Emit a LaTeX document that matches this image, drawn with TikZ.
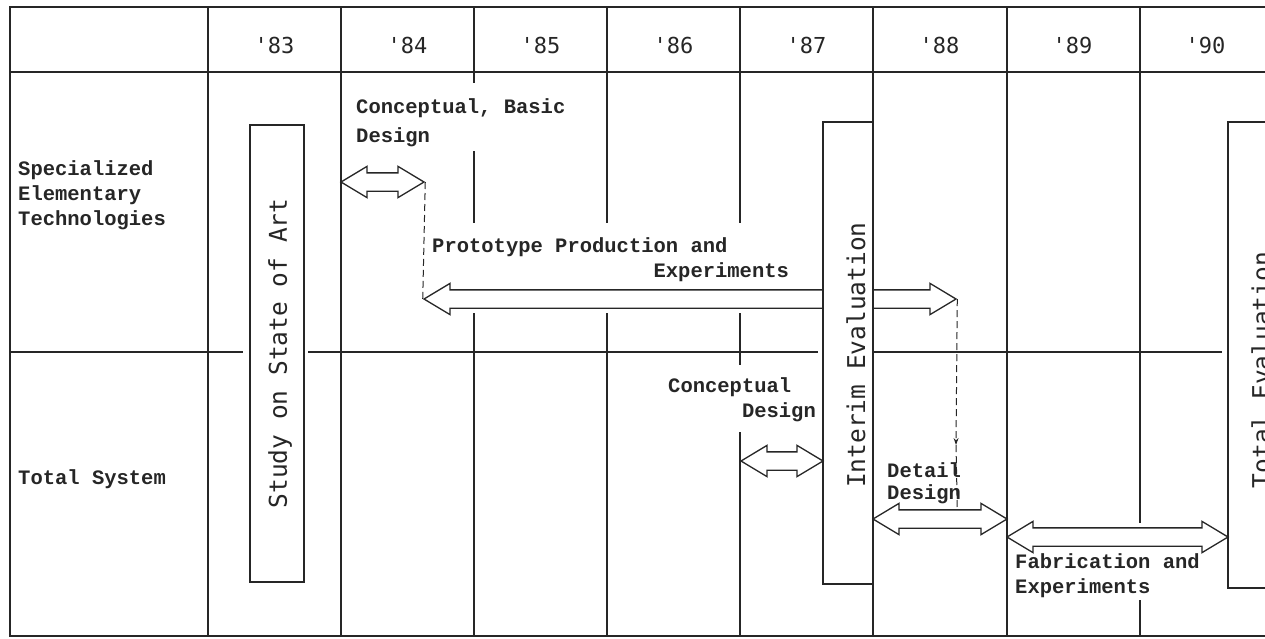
\documentclass[tikz,border=0pt]{standalone}
\usepackage{fontspec}
\setmainfont{Liberation Serif}
\newfontfamily\typew{Liberation Mono}
\newfontfamily\gothic{DejaVu Sans Mono}
\usetikzlibrary{shapes.arrows,arrows.meta,positioning}

\begin{document}
\begin{tikzpicture}[x=1pt, y=-1pt,
    grid/.style={line width=1.3pt, black!85},
    yr/.style={font=\gothic\fontsize{22}{26}\selectfont, text=black!85},
    lab/.style={font=\typew\bfseries\fontsize{20.5}{25}\selectfont, align=left,
                anchor=west, inner sep=2pt, text=black!85},
    box/.style={draw=black!85, line width=1.3pt, fill=white, inner sep=0pt},
    vlab/.style={font=\gothic\fontsize{24.5}{28}\selectfont, rotate=90, inner sep=0pt, text=black!85},
    dbl/.style={double arrow, draw=black!85, fill=white, line width=1.3pt,
                inner xsep=0pt, inner ysep=8.5pt, double arrow head extend=6.5pt,
                double arrow tip angle=62},
    lead/.style={black!85, line width=1pt, dash pattern=on 7pt off 4pt}]
  \useasboundingbox (0,0) rectangle (1265,638);
  \clip (0,0) rectangle (1265,638);

  % frame and rows
  \draw[grid] (1265,7) -- (10,7) -- (10,636) -- (1265,636);
  \draw[grid] (10,72) -- (1265,72);
  \draw[grid] (10,352) -- (243,352);
  \draw[grid] (308,352) -- (818,352);
  \draw[grid] (874,352) -- (1222,352);
  % year columns, broken where labels and arrows pass
  \foreach \x/\ya/\yb in {208/7/636, 341/7/636, 474/7/83, 474/151/223, 474/313/636,
      607/7/223, 607/313/636, 740/7/223, 740/313/365, 740/432/636,
      873/7/636, 1007/7/636, 1140/7/523, 1140/600/636}
    \draw[grid] (\x,\ya) -- (\x,\yb);

  % years
  \foreach \yy [count=\i from 0] in {83,84,85,86,87,88,89,90}
    \node[yr] (y\yy) at (274.5+133*\i,45) {'\yy};

  % row heads
  \node[lab] (rowSET) at (16,195) {Specialized\\Elementary\\Technologies};
  \node[lab] (rowTS) at (16,479) {Total System};

  % prototype arrow runs behind the interim box
  \node[dbl, minimum height=532pt] (a2) at (690,299) {};

  % evaluation boxes
  \node[box, minimum width=54pt, minimum height=457pt] (study) at (277,353.5) {};
  \node[vlab] (tStudy) at (280,353.5) {Study on State of Art};
  \node[box, minimum width=50pt, minimum height=462pt] (interim) at (848,353) {};
  \node[vlab] (tInterim) at (856,355) {Interim Evaluation};
  \node[box, minimum width=50pt, minimum height=466pt] (total) at (1253,355) {};
  \node[vlab] (tTotal) at (1261,370) {Total Evaluation};

  % activity arrows
  \node[dbl, minimum height=83pt] (a1) at (382.5,182) {};
  \node[dbl, minimum height=82pt] (a3) at (782,461) {};
  \node[dbl, minimum height=134pt] (a4) at (940,519) {};
  \node[dbl, minimum height=221pt] (a5) at (1117.5,537) {};

  % activity labels
  \node[lab] (lBasic) at (354,123) {Conceptual, Basic\\[4pt]Design};
  \node[lab] (lProto) at (430,259.5) {Prototype Production and\\\phantom{Prototype Producti}Experiments};
  \node[lab] (lConc) at (666,399.5) {Conceptual\\\phantom{Concep}Design};
  \node[lab] (lDetail) at (885,483) {Detail\\[-3pt]Design};
  \node[lab] (lFab) at (1013,576) {Fabrication and\\Experiments};

  % leads from one stage to the next
  \coordinate (dtip) at (956,445);
  \draw[lead] (a1.east) -- (a2.west);
  \draw[lead, -{Stealth[length=7pt, width=5pt]}] (a2.east) -- (dtip);
  \draw[lead] (dtip) -- (a2.east |- a4.north);
\end{tikzpicture}
\end{document}
